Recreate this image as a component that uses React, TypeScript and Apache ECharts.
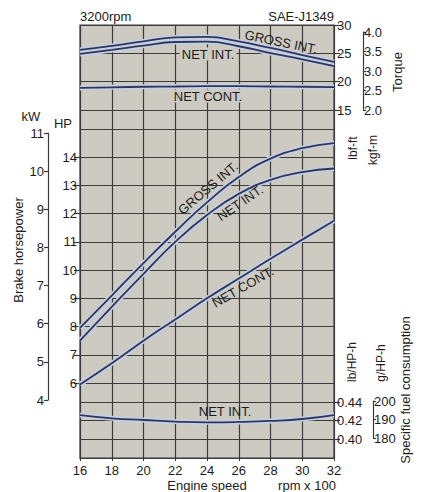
import React, { useEffect, useRef } from "react";
import * as echarts from "echarts";

const rpm = [16, 18, 20, 22, 24, 26, 28, 30, 32];
const torqueGrossInt = [25.6, 26.3, 27.1, 27.8, 27.9, 27.1, 25.95, 24.7, 23.5];
const torqueNetInt = [24.9, 25.6, 26.35, 27.0, 27.05, 26.25, 25.05, 23.95, 22.75];
const torqueNetCont = [18.9, 19.0, 19.1, 19.15, 19.2, 19.2, 19.15, 19.1, 19.05];
const hpGrossInt = [7.95, 9.1, 10.25, 11.36, 12.4, 13.3, 13.95, 14.32, 14.5];
const hpNetInt = [7.5, 8.7, 9.87, 11.0, 11.95, 12.7, 13.2, 13.47, 13.6];
const hpNetCont = [5.95, 6.7, 7.5, 8.25, 9.0, 9.7, 10.4, 11.08, 11.75];
const fuelNetInt = [0.426, 0.4225, 0.4207, 0.419, 0.4182, 0.4186, 0.4197, 0.4218, 0.426];

const FONT = '"Liberation Sans", Arial, Helvetica, sans-serif';
const TXT = "#1c1c1c";
const GRID_LINE = "#3a3a3a";
const PLOT_BG = "#cdcac2";
const CURVE = "#30365a";
const HALO = "#c3cfe4";

const L = 80;
const W = 254;

function pairs(ys: number[]) {
  return rpm.map((x, i) => [x, ys[i]]);
}

function curve(ys: number[], idx: number) {
  const d = pairs(ys);
  const base = {
    type: "line",
    xAxisIndex: idx,
    yAxisIndex: idx,
    data: d,
    smooth: true,
    showSymbol: false,
    silent: true,
    clip: false,
  };
  return [
    { ...base, z: 3, lineStyle: { color: HALO, width: 5 } },
    { ...base, z: 4, lineStyle: { color: CURVE, width: 1.8 } },
  ];
}

function hiddenX() {
  return { type: "value", min: 16, max: 32, interval: 2, show: false };
}

function text(t: string, x: number, y: number, opts: any = {}) {
  return {
    type: "text",
    x,
    y,
    rotation: opts.rotation || 0,
    z: 10,
    style: {
      text: t,
      fill: TXT,
      font: `${opts.size || 13}px ${FONT}`,
      textAlign: opts.align || "center",
      align: opts.align || "center",
      textVerticalAlign: "middle",
      verticalAlign: "middle",
      backgroundColor: opts.bg,
      padding: opts.bg ? [0, 2] : undefined,
    },
  };
}

export default function App() {
  const ref = useRef<HTMLDivElement>(null);
  useEffect(() => {
    if (!ref.current) return;
    const chart = echarts.init(ref.current, undefined, { renderer: "svg" });
    const axisLabelBase = { color: TXT, fontFamily: FONT, fontSize: 13 };
    const option: any = {
      animation: false,
      backgroundColor: "#ffffff",
      grid: [
        { left: L, top: 25, width: W, height: 433, show: true, backgroundColor: PLOT_BG, borderColor: GRID_LINE, borderWidth: 1.2 },
        { left: L, top: 25, width: W, height: 85 },
        { left: L, top: 32, width: W, height: 78 },
        { left: L, top: 129, width: W, height: 254 },
        { left: L, top: 133, width: W, height: 267 },
        { left: L, top: 402, width: W, height: 56 },
        { left: L, top: 401, width: W, height: 37 },
      ],
      xAxis: [
        {
          type: "value",
          gridIndex: 0,
          min: 16,
          max: 32,
          interval: 2,
          axisLine: { show: true, lineStyle: { color: GRID_LINE, width: 1.2 } },
          axisTick: { show: true, length: 3, lineStyle: { color: GRID_LINE } },
          splitLine: { show: true, lineStyle: { color: GRID_LINE, width: 1.2 } },
          axisLabel: { ...axisLabelBase, margin: 6 },
        },
        { ...hiddenX(), gridIndex: 1 },
        { ...hiddenX(), gridIndex: 2 },
        { ...hiddenX(), gridIndex: 3 },
        { ...hiddenX(), gridIndex: 4 },
        { ...hiddenX(), gridIndex: 5 },
        { ...hiddenX(), gridIndex: 6 },
      ],
      yAxis: [
        { type: "value", gridIndex: 0, min: 0, max: 1, show: false },
        {
          type: "value",
          gridIndex: 1,
          position: "right",
          min: 15,
          max: 30,
          interval: 5,
          axisLine: { show: false },
          axisTick: { show: true, length: 6, lineStyle: { color: GRID_LINE, width: 1.2 } },
          splitLine: { show: true, lineStyle: { color: GRID_LINE, width: 1.2 } },
          axisLabel: { ...axisLabelBase, margin: 3 },
        },
        {
          type: "value",
          gridIndex: 2,
          position: "right",
          offset: 29,
          min: 2,
          max: 4,
          interval: 0.5,
          axisLine: { show: true, lineStyle: { color: GRID_LINE, width: 1.2 } },
          axisTick: { show: true, length: 3, lineStyle: { color: GRID_LINE, width: 1.2 } },
          splitLine: { show: false },
          axisLabel: { ...axisLabelBase, margin: 1, formatter: (v: number) => v.toFixed(1) },
        },
        {
          type: "value",
          gridIndex: 3,
          position: "left",
          min: 6,
          max: 15,
          interval: 1,
          axisLine: { show: false },
          axisTick: { show: true, length: 6, lineStyle: { color: GRID_LINE, width: 1.2 } },
          splitLine: { show: true, lineStyle: { color: GRID_LINE, width: 1.2 } },
          axisLabel: { ...axisLabelBase, margin: 3, showMaxLabel: false },
        },
        {
          type: "value",
          gridIndex: 4,
          position: "left",
          offset: 32,
          min: 4,
          max: 11,
          interval: 1,
          axisLine: { show: true, lineStyle: { color: GRID_LINE, width: 1.2 } },
          axisTick: { show: true, length: 4, lineStyle: { color: GRID_LINE, width: 1.2 } },
          splitLine: { show: false },
          axisLabel: { ...axisLabelBase, margin: 4 },
        },
        {
          type: "value",
          gridIndex: 5,
          position: "right",
          min: 0.38,
          max: 0.44,
          interval: 0.02,
          axisLine: { show: false },
          axisTick: { show: true, length: 6, lineStyle: { color: GRID_LINE, width: 1.2 } },
          splitLine: { show: true, lineStyle: { color: GRID_LINE, width: 1.2 } },
          axisLabel: { ...axisLabelBase, margin: 3, showMinLabel: false, formatter: (v: number) => (Math.abs(v - 0.38) < 1e-6 ? "" : v.toFixed(2)) },
        },
        {
          type: "value",
          gridIndex: 6,
          position: "right",
          offset: 39,
          min: 180,
          max: 200,
          interval: 10,
          axisLine: { show: true, lineStyle: { color: GRID_LINE, width: 1.2 } },
          axisTick: { show: true, length: 3, lineStyle: { color: GRID_LINE, width: 1.2 } },
          splitLine: { show: false },
          axisLabel: { ...axisLabelBase, margin: 1 },
        },
      ],
      series: [
        ...curve(torqueGrossInt, 1),
        ...curve(torqueNetInt, 1),
        ...curve(torqueNetCont, 1),
        ...curve(hpGrossInt, 3),
        ...curve(hpNetInt, 3),
        ...curve(hpNetCont, 3),
        ...curve(fuelNetInt, 5),
      ],
      graphic: [
        text("3200rpm", 80, 16, { align: "left" }),
        text("SAE-J1349", 334, 16, { align: "right" }),
        text("GROSS INT.", 281, 42, { rotation: -0.2 }),
        text("NET INT.", 208, 54, { bg: PLOT_BG }),
        text("NET CONT.", 208, 96, { bg: PLOT_BG }),
        text("GROSS INT.", 208, 188, { rotation: 0.7 }),
        text("NET INT.", 240, 203, { rotation: 0.6 }),
        text("NET CONT.", 243, 287, { rotation: 0.52 }),
        text("NET INT.", 225, 411),
        text("kW", 31, 116),
        text("HP", 63, 123),
        text("Brake horsepower", 18, 250, { rotation: Math.PI / 2 }),
        text("Torque", 397, 72, { rotation: Math.PI / 2 }),
        text("lbf-ft", 353, 148, { rotation: Math.PI / 2, size: 12 }),
        text("kgf-m", 373, 150, { rotation: Math.PI / 2, size: 12 }),
        text("lb/HP-h", 352, 362, { rotation: Math.PI / 2, size: 12 }),
        text("g/HP-h", 381, 363, { rotation: Math.PI / 2, size: 12 }),
        text("Specific fuel consumption", 405, 390, { rotation: Math.PI / 2 }),
        text("Engine speed", 207, 485),
        text("rpm x 100", 307, 485),
      ],
    };
    chart.setOption(option);
    return () => chart.dispose();
  }, []);
  return (
    <div
      ref={ref}
      style={{ position: "fixed", left: 0, top: 0, width: 422, height: 492, background: "#fff" }}
    />
  );
}
